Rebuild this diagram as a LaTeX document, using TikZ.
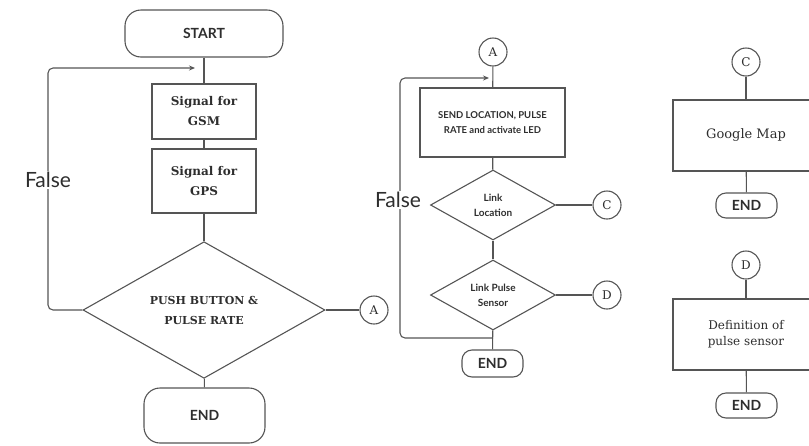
\documentclass[tikz,border=0pt]{standalone}
\usepackage{fontspec}
\setmainfont{DejaVu Serif}
\setsansfont{Lato}
\usetikzlibrary{shapes.geometric,arrows.meta}
\definecolor{lineg}{HTML}{555555}
\definecolor{textg}{HTML}{2E2E2E}

\begin{document}
\begin{tikzpicture}[x=1pt, y=-1pt, line width=1.1pt, draw=lineg, text=textg,
    startend/.style={draw, rectangle, inner sep=0pt, font=\sffamily\bfseries\fontsize{14}{16}\selectfont},
    process/.style={draw, rectangle, inner sep=0pt, align=center},
    decision/.style={draw, diamond, inner sep=0pt, align=center},
    connector/.style={draw, circle, minimum size=28pt, inner sep=0pt, font=\fontsize{12}{14}\selectfont},
    loopline/.style={draw, rounded corners=5pt, -{Stealth[length=6pt,width=5pt]}},
    falselabel/.style={fill=white, inner sep=1pt, font=\sffamily\fontsize{21}{24}\selectfont}]

        \clip (0,0) rectangle (809,445);

        \node[startend, rounded corners=16pt, minimum width=158pt, minimum height=47pt] (start) at (204,33.5) {START};
        \node[process, minimum width=104pt, minimum height=55pt, font=\bfseries\fontsize{12}{20}\selectfont] (gsm) at (204,111.5) {Signal for\\GSM};
        \node[process, minimum width=104pt, minimum height=64pt, font=\bfseries\fontsize{12}{20}\selectfont] (gps) at (204,181) {Signal for\\GPS};
        \node[decision, minimum width=242pt, minimum height=136pt, font=\bfseries\fontsize{11}{20}\selectfont] (push) at (204,310) {PUSH BUTTON \&\\PULSE RATE};
        \node[startend, rounded corners=16pt, minimum width=121pt, minimum height=55pt] (end1) at (204.5,415.5) {END};
        \node[connector] (a1) at (374,310) {A};
        \coordinate (loop1) at (48,68);
        \coordinate (in1) at (195,68);

        \draw (start) -- (gsm);
        \draw (gsm) -- (gps);
        \draw (gps) -- (push);
        \draw (push) -- (end1);
        \draw (push) -- (a1);
        \draw[loopline] (push.west) -| (loop1) -- (in1);
        \node[falselabel] (false1) at (48,180) {False};

        \node[connector] (a2) at (493,52) {A};
        \node[process, minimum width=145pt, minimum height=69pt, font=\sffamily\bfseries\fontsize{9.5}{15}\selectfont] (send) at (492.5,122.5) {SEND LOCATION, PULSE\\RATE and activate LED};
        \node[decision, minimum width=125pt, minimum height=70pt, font=\sffamily\bfseries\fontsize{10}{15}\selectfont] (loc) at (493,205) {Link\\Location};
        \node[decision, minimum width=125pt, minimum height=70pt, font=\sffamily\bfseries\fontsize{10}{15}\selectfont] (pulse) at (493,295) {Link Pulse\\Sensor};
        \node[connector] (c1) at (607,205) {C};
        \node[connector] (d1) at (607,295) {D};
        \node[startend, rounded corners=10pt, minimum width=61pt, minimum height=27pt] (end2) at (492.5,363.5) {END};
        \coordinate (back2) at (493,338);
        \coordinate (loop2) at (400,78);
        \coordinate (in2) at (489,78);

        \draw (a2) -- (send);
        \draw (send) -- (loc);
        \draw (loc) -- (pulse);
        \draw (pulse) -- (end2);
        \draw (loc) -- (c1);
        \draw (pulse) -- (d1);
        \draw[loopline] (back2) -| (loop2) -- (in2);
        \node[falselabel] (false2) at (398,200) {False};

        \node[connector] (c2) at (746,62) {C};
        \node[process, minimum width=146pt, minimum height=71pt, font=\fontsize{13}{16}\selectfont] (map) at (746,135.5) {Google Map};
        \node[startend, rounded corners=10pt, minimum width=61pt, minimum height=25pt] (end3) at (746.5,205.5) {END};
        \node[connector] (d2) at (746,265) {D};
        \node[process, minimum width=146pt, minimum height=71pt, font=\fontsize{12}{16}\selectfont] (defn) at (746,334.5) {Definition of\\pulse sensor};
        \node[startend, rounded corners=10pt, minimum width=61pt, minimum height=25pt] (end4) at (746.5,405.5) {END};

        \draw (c2) -- (map);
        \draw (map) -- (end3);
        \draw (d2) -- (defn);
        \draw (defn) -- (end4);
    \end{tikzpicture}
\end{document}
